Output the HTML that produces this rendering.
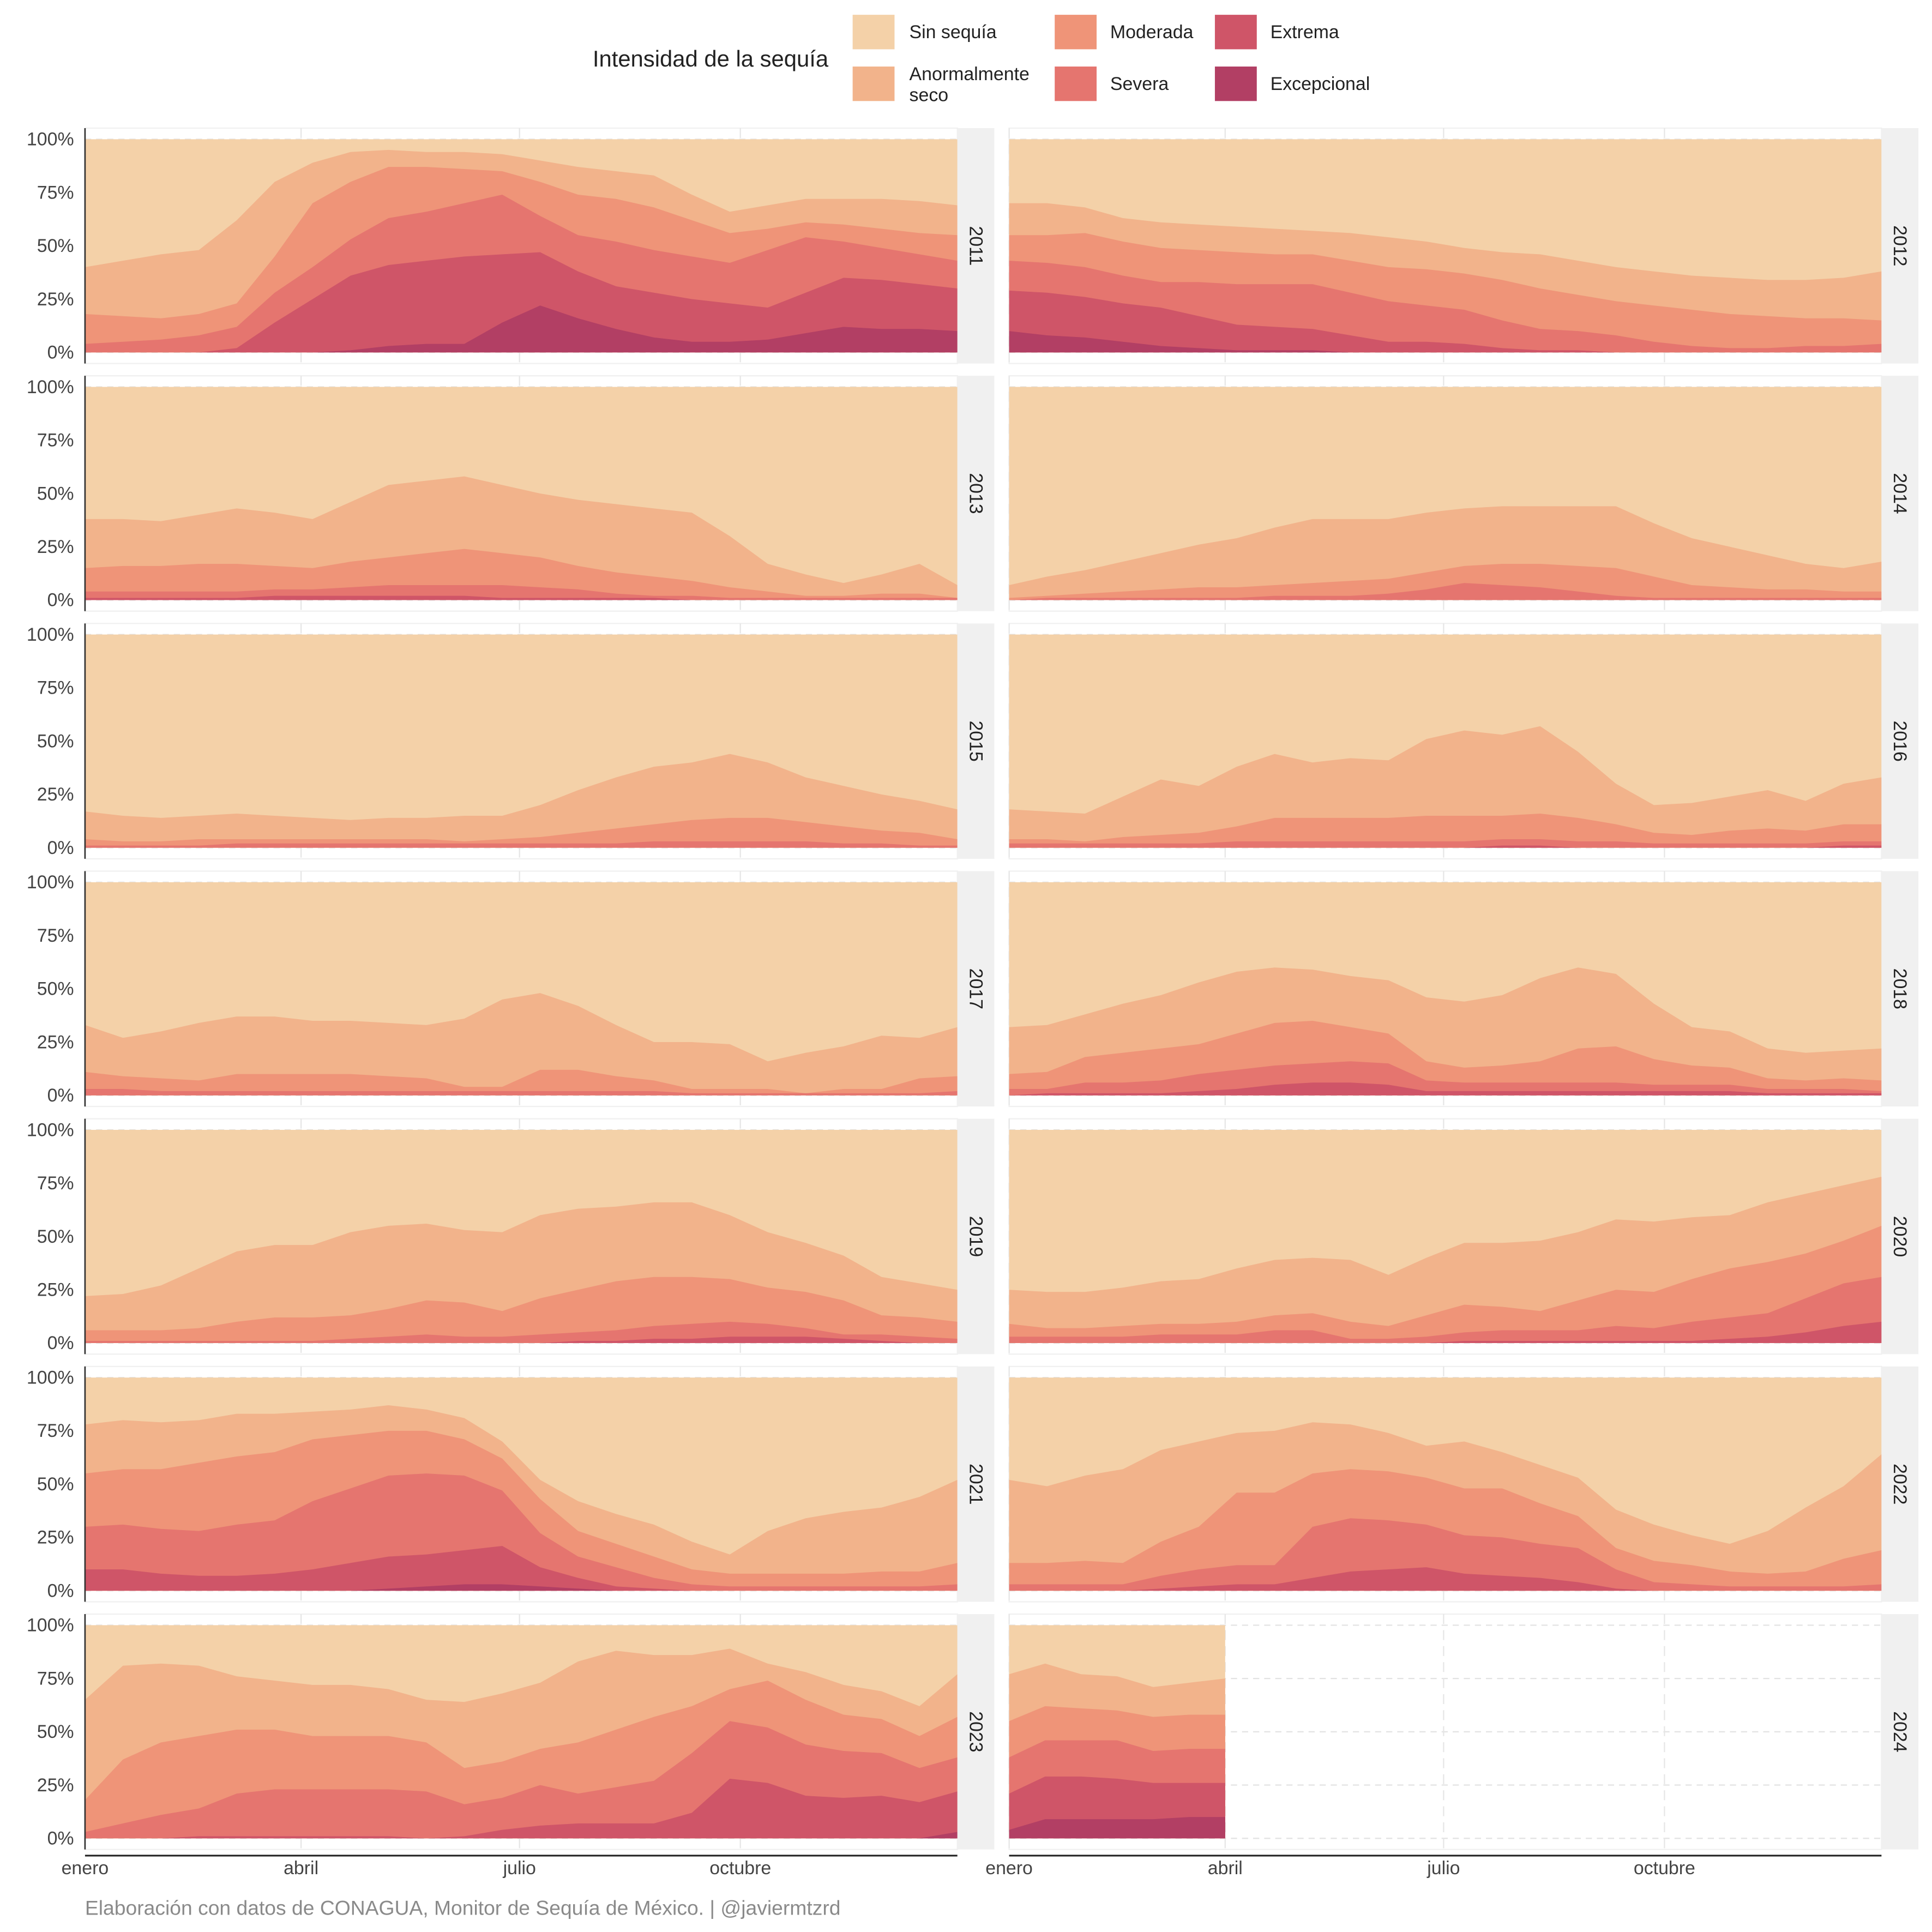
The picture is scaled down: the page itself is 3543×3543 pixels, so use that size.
<!DOCTYPE html>
<html><head><meta charset="utf-8"><style>
html,body{margin:0;padding:0;background:#fff;}
svg{display:block;font-family:"Liberation Sans",sans-serif;}
</style></head><body>
<svg id="chart" width="3543" height="3543" viewBox="0 0 1568 1568" xmlns="http://www.w3.org/2000/svg">
<g>
<text x="481" y="54" font-size="18.5" fill="#222">Intensidad de la sequía</text>
<rect x="692" y="12" width="34" height="28" fill="#f4d1a8"/>
<text x="738" y="31" font-size="15" fill="#222">Sin sequía</text>
<rect x="692" y="54" width="34" height="28" fill="#f2b38b"/>
<text x="738" y="65" font-size="15" fill="#222">Anormalmente</text>
<text x="738" y="82" font-size="15" fill="#222">seco</text>
<rect x="856" y="12" width="34" height="28" fill="#ef9478"/>
<text x="901" y="31" font-size="15" fill="#222">Moderada</text>
<rect x="856" y="54" width="34" height="28" fill="#e5756f"/>
<text x="901" y="73" font-size="15" fill="#222">Severa</text>
<rect x="986" y="12" width="34" height="28" fill="#cf5568"/>
<text x="1031" y="31" font-size="15" fill="#222">Extrema</text>
<rect x="986" y="54" width="34" height="28" fill="#b23f64"/>
<text x="1031" y="73" font-size="15" fill="#222">Excepcional</text>
</g>
<g id="panels"></g>
<text x="69" y="1554" font-size="16.5" fill="#8a8a8a">Elaboración con datos de CONAGUA, Monitor de Sequía de México. | @javiermtzrd</text>
</svg>
<script>
const years = [2011,2012,2013,2014,2015,2016,2017,2018,2019,2020,2021,2022,2023,2024];
const yTicks = [0,25,50,75,100];
const yTickLabels = ["0%","25%","50%","75%","100%"];
// month positions in day-of-year
const monthDays = [0,90,181,273];
const monthLabels = ["enero","abril","julio","octubre"];
// sample day-of-year for each point index (biweekly)
const sampleDays = [0,15.8,31.6,47.4,63.2,79,94.8,110.6,126.4,142.2,158,173.8,189.6,205.4,221.2,237,252.8,268.6,284.4,300.2,316,331.8,347.6,363.4];
const sampleDays2024 = [0,15,30,45,60,75,90];
// cumulative % of area at or above each intensity
const abnormalDry = [
[40,43,46,48,62,80,89,94,95,94,94,93,90,87,85,83,74,66,69,72,72,72,71,69],
[70,70,68,63,61,60,59,58,57,56,54,52,49,47,46,43,40,38,36,35,34,34,35,38],
[38,38,37,40,43,41,38,46,54,56,58,54,50,47,45,43,41,30,17,12,8,12,17,7],
[7,11,14,18,22,26,29,34,38,38,38,41,43,44,44,44,44,36,29,25,21,17,15,18],
[17,15,14,15,16,15,14,13,14,14,15,15,20,27,33,38,40,44,40,33,29,25,22,18],
[18,17,16,24,32,29,38,44,40,42,41,51,55,53,57,45,30,20,21,24,27,22,30,33],
[33,27,30,34,37,37,35,35,34,33,36,45,48,42,33,25,25,24,16,20,23,28,27,32],
[32,33,38,43,47,53,58,60,59,56,54,46,44,47,55,60,57,43,32,30,22,20,21,22],
[22,23,27,35,43,46,46,52,55,56,53,52,60,63,64,66,66,60,52,47,41,31,28,25],
[25,24,24,26,29,30,35,39,40,39,32,40,47,47,48,52,58,57,59,60,66,70,74,78],
[78,80,79,80,83,83,84,85,87,85,81,70,52,42,36,31,23,17,28,34,37,39,44,52],
[52,49,54,57,66,70,74,75,79,78,74,68,70,65,59,53,38,31,26,22,28,39,49,64],
[65,81,82,81,76,74,72,72,70,65,64,68,73,83,88,86,86,89,82,78,72,69,62,77],
[77,82,77,76,71,73,75]];
const moderate = [
[18,17,16,18,23,45,70,80,87,87,86,85,80,74,72,68,62,56,58,61,60,58,56,55],
[55,55,56,52,49,48,47,46,46,43,40,39,37,34,30,27,24,22,20,18,17,16,16,15],
[15,16,16,17,17,16,15,18,20,22,24,22,20,16,13,11,9,6,4,2,2,3,3,1],
[1,2,3,4,5,6,6,7,8,9,10,13,16,17,17,16,15,11,7,6,5,5,4,4],
[4,3,3,4,4,4,4,4,4,4,3,4,5,7,9,11,13,14,14,12,10,8,7,4],
[4,4,3,5,6,7,10,14,14,14,14,15,15,15,16,14,11,7,6,8,9,8,11,11],
[11,9,8,7,10,10,10,10,9,8,4,4,12,12,9,7,3,3,3,1,3,3,8,9],
[10,11,18,20,22,24,29,34,35,32,29,16,13,14,16,22,23,17,14,13,8,7,8,7],
[6,6,6,7,10,12,12,13,16,20,19,15,21,25,29,31,31,30,26,24,20,13,12,10],
[9,7,7,8,9,9,10,13,14,10,8,13,18,17,15,20,25,24,30,35,38,42,48,55],
[55,57,57,60,63,65,71,73,75,75,71,62,43,28,22,16,10,8,8,8,8,9,9,13],
[13,13,14,13,23,30,46,46,55,57,56,53,48,48,41,35,20,14,12,9,8,9,15,19],
[18,37,45,48,51,51,48,48,48,45,33,36,42,45,51,57,62,70,74,65,58,56,48,57],
[55,62,61,60,57,58,58]];
const severe = [
[4,5,6,8,12,28,40,53,63,66,70,74,64,55,52,48,45,42,48,54,52,49,46,43],
[43,42,40,36,33,33,32,32,32,28,24,22,20,15,11,10,8,5,3,2,2,3,3,4],
[4,4,4,4,4,5,5,6,7,7,7,7,6,5,3,2,2,1,1,1,1,1,1,1],
[0,1,1,1,1,1,1,2,2,2,3,5,8,7,6,4,2,1,1,1,1,1,1,1],
[1,1,1,1,2,2,2,2,2,2,2,2,2,2,2,3,3,3,3,3,2,2,1,1],
[2,2,2,2,2,2,3,3,3,3,3,3,3,4,4,3,3,2,2,2,2,2,3,3],
[3,3,2,2,2,2,2,2,2,2,2,2,2,2,2,2,1,1,1,1,1,1,1,2],
[3,3,6,6,7,10,12,14,15,16,15,7,6,6,6,6,6,5,5,5,3,3,3,2],
[1,1,1,1,1,1,1,2,3,4,3,3,4,5,6,8,9,10,9,7,4,4,3,2],
[3,3,3,3,4,4,4,6,6,2,2,3,5,6,6,6,8,7,10,12,14,21,28,31],
[30,31,29,28,31,33,42,48,54,55,54,47,27,16,11,6,3,2,2,2,2,2,2,3],
[3,3,3,3,7,10,12,12,30,34,33,31,26,25,22,20,10,4,3,2,2,2,2,3],
[3,7,11,14,21,23,23,23,23,22,16,19,25,21,24,27,40,55,52,44,41,40,33,38],
[38,46,46,46,41,42,42]];
const extreme = [
[0,0,0,0,2,14,25,36,41,43,45,46,47,38,31,28,25,23,21,28,35,34,32,30],
[29,28,26,23,21,17,13,12,11,8,5,5,4,2,1,1,0,0,0,0,0,0,0,0],
[1,1,1,1,1,2,2,2,2,2,2,1,1,1,1,1,0,0,0,0,0,0,0,0],
[0,0,0,0,0,0,0,0,0,0,0,0,0,0,0,0,0,0,0,0,0,0,0,0],
[0,0,0,0,0,0,0,0,0,0,0,0,0,0,0,0,0,0,0,0,0,0,0,0],
[0,0,0,0,0,0,0,0,0,0,0,0,0,1,1,0,0,0,0,0,0,0,1,1],
[0,0,0,0,0,0,0,0,0,0,0,0,0,0,0,0,0,0,0,0,0,0,0,0],
[0,1,1,1,1,2,3,5,6,6,5,2,2,2,2,2,2,2,2,2,1,1,1,1],
[0,0,0,0,0,0,0,0,0,0,0,0,0,1,1,2,2,3,3,3,2,1,0,0],
[0,0,0,0,0,0,0,0,0,0,0,0,1,1,1,1,1,1,1,2,3,5,8,10],
[10,10,8,7,7,8,10,13,16,17,19,21,11,6,2,1,0,0,0,0,0,0,0,0],
[0,0,0,0,1,2,3,3,6,9,10,11,8,7,6,4,1,0,0,0,0,0,0,0],
[0,0,0,1,1,1,1,1,1,0,1,4,6,7,7,7,12,28,26,20,19,20,17,22],
[21,29,29,28,26,26,26]];
const exceptional = [
[0,0,0,0,0,0,0,1,3,4,4,14,22,16,11,7,5,5,6,9,12,11,11,10],
[10,8,7,5,3,2,1,1,1,0,0,0,0,0,0,0,0,0,0,0,0,0,0,0],
[0,0,0,0,0,0,0,0,0,0,0,0,0,0,0,0,0,0,0,0,0,0,0,0],
[0,0,0,0,0,0,0,0,0,0,0,0,0,0,0,0,0,0,0,0,0,0,0,0],
[0,0,0,0,0,0,0,0,0,0,0,0,0,0,0,0,0,0,0,0,0,0,0,0],
[0,0,0,0,0,0,0,0,0,0,0,0,0,0,0,0,0,0,0,0,0,0,0,0],
[0,0,0,0,0,0,0,0,0,0,0,0,0,0,0,0,0,0,0,0,0,0,0,0],
[0,0,0,0,0,0,0,0,0,0,0,0,0,0,0,0,0,0,0,0,0,0,0,0],
[0,0,0,0,0,0,0,0,0,0,0,0,0,0,0,0,0,0,0,0,0,0,0,0],
[0,0,0,0,0,0,0,0,0,0,0,0,0,0,0,0,0,0,0,0,0,0,0,0],
[0,0,0,0,0,0,0,0,1,2,3,3,2,1,0,0,0,0,0,0,0,0,0,0],
[0,0,0,0,0,0,0,0,0,0,0,0,0,0,0,0,0,0,0,0,0,0,0,0],
[0,0,0,0,0,0,0,0,0,0,0,0,0,0,0,0,0,0,0,0,0,0,0,3],
[4,9,9,9,9,10,10]];

const NS="http://www.w3.org/2000/svg";
const root=document.getElementById('panels');
function mk(tag,attrs,parent){const e=document.createElementNS(NS,tag);for(const k in attrs)e.setAttribute(k,attrs[k]);parent.appendChild(e);return e;}
const PW=708, PH=191, colX=[69,819], rowY0=104, rowStep=201;
const pxPerDay=PW/363.4;
const layers=[
 {name:'anormalmente-seco',data:abnormalDry,color:'#f2b38b'},
 {name:'moderada',data:moderate,color:'#ef9478'},
 {name:'severa',data:severe,color:'#e5756f'},
 {name:'extrema',data:extreme,color:'#cf5568'},
 {name:'excepcional',data:exceptional,color:'#b23f64'}];
years.forEach((yr,k)=>{
  const col=k%2,row=Math.floor(k/2);
  const x0=colX[col], top=rowY0+row*rowStep;
  const xD=d=>x0+d*pxPerDay;
  const days=(yr===2024)?sampleDays2024:sampleDays;
  const xS=i=>xD(days[i]);
  const yS=v=>top+182-v*1.73;
  const g=mk('g',{},root);
  
  
  const bg=mk('rect',{x:x0,y:top,width:PW,height:PH,fill:'#fff',stroke:'#f0f0f0','stroke-width':1},g);
  
  
  yTicks.forEach(t=>{const l=mk('line',{x1:x0,x2:x0+PW,y1:yS(t),y2:yS(t),stroke:'#e3e3e3','stroke-dasharray':'5 4','stroke-width':1},g);
    
    });
  monthDays.forEach(m=>{const l=mk('line',{x1:xD(m),x2:xD(m),y1:top,y2:top+PH,stroke:'#e6e6e6','stroke-dasharray':'8 5','stroke-width':1},g);
    
    });
  const n=abnormalDry[k].length;
  let d='M'+xS(0)+','+yS(0)+' L'+xS(0)+','+yS(100)+' L'+xS(n-1)+','+yS(100)+' L'+xS(n-1)+','+yS(0)+'Z';
  const base=mk('path',{d:d,fill:'#f4d1a8'},g);
  
  
  layers.forEach(L=>{
    const v=L.data[k];
    let p='M'+xS(0)+','+yS(0);
    v.forEach((val,i)=>{p+=' L'+xS(i).toFixed(2)+','+yS(val).toFixed(2);});
    p+=' L'+xS(n-1)+','+yS(0)+'Z';
    const a=mk('path',{d:p,fill:L.color},g);
    
    
  });
  const sx=col===0?777:1527;
  const st=mk('rect',{x:sx,y:top,width:30,height:PH,fill:'#f0f0f0'},g);
  
  
  const stt=mk('text',{x:0,y:0,'font-size':15,fill:'#222','text-anchor':'middle',transform:`translate(${sx+10},${top+PH/2}) rotate(90)`},g);
  stt.textContent=yr;
  
  
  if(col===0){
    yTicks.forEach((t,j)=>{const tx=mk('text',{x:x0-9,y:yS(t)+5,'font-size':15,fill:'#444','text-anchor':'end'},g);
      tx.textContent=yTickLabels[j];
      
      });
    const ax=mk('line',{x1:x0,x2:x0,y1:top,y2:top+PH,stroke:'#333','stroke-width':1.2},g);
    
    
  }
  if(row===6){
    const bx=mk('line',{x1:x0,x2:x0+PW,y1:top+PH+5,y2:top+PH+5,stroke:'#222','stroke-width':1.4},g);
    
    
    monthDays.forEach((m,j)=>{const tx=mk('text',{x:xD(m),y:1521,'font-size':15,fill:'#444','text-anchor':'middle'},g);
      tx.textContent=monthLabels[j];
      
      });
  }
});
</script>
</body></html>
